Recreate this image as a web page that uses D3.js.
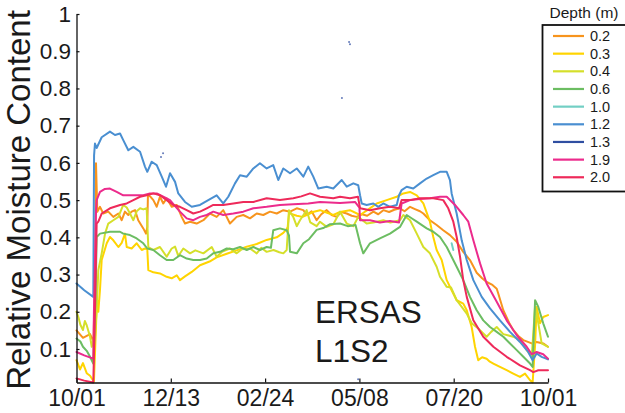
<!DOCTYPE html>
<html>
<head>
<meta charset="utf-8">
<script src="https://cdn.jsdelivr.net/npm/d3@7"></script>
<style>
  body { margin: 0; background: #fff; }
  svg { display: block; font-family: "Liberation Sans", Arial, Helvetica, sans-serif; }
</style>
</head>
<body>
<svg id="chart" width="625" height="413"></svg>
<script>
// Sensor depths (legend order) and their line colours
const depths = ["0.2", "0.3", "0.4", "0.6", "1.0", "1.2", "1.3", "1.9", "2.0"];
const depthColors = ["#f7941d", "#ffd400", "#d5df2a", "#6cbd62", "#72cfc4", "#4a8fd1", "#2f4ea1", "#ec2b8c", "#ee2a5a"];

// Time axis: water year starting 1 October, ticks every 73 days
const startDate = "2013-10-01";
const endDate = "2014-10-01";
const xTickDates = ["2013-10-01", "2013-12-13", "2014-02-24", "2014-05-08", "2014-07-20", "2014-10-01"];
const yTickValues = [0.1, 0.2, 0.3, 0.4, 0.5, 0.6, 0.7, 0.8, 0.9, 1];
const yTickLabels = ["0.1", "0.2", "0.3", "0.4", "0.5", "0.6", "0.7", "0.8", "0.9", "1"];

// Relative moisture content per depth: [days since 1 Oct, value]
const d02 = [[0,.150],[5,.130],[10.5,.140],[13.2,.120],[14.6,.35],[15.1,.599],[16.1,.469],[18.2,.482],[20.7,.464],[24.6,.469],[28.5,.455],[32.4,.464],[35,.446],[37.5,.469],[40.1,.460],[42.7,.469],[45.3,.473],[47.8,.446],[51.7,.424],[53.8,.410],[54.8,.428],[55.3,.513],[57,.510],[59.5,.500],[62.1,.482],[64.6,.509],[67.2,.491],[69.8,.505],[73.7,.482],[77.6,.487],[81.4,.455],[84,.437],[87.9,.442],[93,.437],[98.2,.446],[103.3,.464],[108.5,.455],[113.6,.473],[118.8,.437],[124,.455],[129.1,.460],[134.3,.451],[139.5,.464],[144.6,.460],[149.8,.469],[155,.464],[160.1,.473],[165.3,.469],[170.5,.478],[175.6,.473],[178.2,.460],[182,.470],[185.9,.446],[189.5,.462],[193.7,.473],[197.5,.460],[201.4,.455],[205,.468],[209.2,.464],[213,.458],[216.9,.455],[221,.462],[225,.458],[229.8,.469],[233.6,.462],[237.5,.473],[242,.468],[246,.474],[250.4,.478],[254,.470],[258.2,.482],[262,.476],[265.9,.470],[268.5,.464],[273.6,.446],[278.8,.433],[283.9,.419],[289.1,.406],[294.3,.388],[299.4,.361],[304.6,.339],[309.8,.305],[314,.290],[317.5,.280],[322,.272],[325.3,.262],[326.5,.249],[330.4,.204],[335,.170],[338.1,.151],[342,.135],[345.9,.124],[352.4,.115],[356.2,.119],[361.3,.115],[365,.106]];
const d03 = [[0,.070],[2.7,.045],[5,.062],[7.9,.035],[10.5,.028],[13.5,.012],[15.5,.200],[16.1,.230],[16.9,.200],[18.2,.260],[19.5,.339],[23.4,.384],[25.9,.401],[28.5,.392],[32.4,.374],[35,.385],[37.5,.410],[38.9,.374],[42.7,.370],[46.6,.384],[50.5,.366],[53,.370],[54.8,.368],[55.6,.312],[59.5,.306],[64.6,.303],[69.8,.294],[73.7,.290],[77.6,.298],[80.1,.285],[84,.295],[89.2,.307],[95.6,.325],[103,.335],[108.5,.346],[116.3,.356],[124,.365],[131.8,.375],[139.5,.382],[147.2,.393],[155,.400],[160.1,.412],[162.7,.422],[163.5,.428],[164.5,.465],[170.5,.458],[175,.455],[178.2,.460],[183,.468],[188.5,.473],[194,.466],[198.8,.460],[204,.468],[211.7,.473],[219.5,.460],[226,.475],[232.4,.491],[240.1,.500],[247.9,.509],[253,.518],[258.2,.522],[263.4,.513],[268.5,.491],[273.6,.442],[276.2,.401],[278.8,.366],[282.7,.339],[286.6,.285],[290.4,.258],[294.3,.231],[299.4,.222],[302.1,.204],[305.9,.159],[308.5,.106],[311,.070],[314,.078],[317.5,.074],[320,.066],[322.7,.061],[327.8,.052],[333,.043],[338.1,.034],[343.3,.025],[347.2,.034],[351.1,.016],[353.1,.010],[355,.110],[356.2,.213],[358.8,.169],[361.3,.186],[365,.191]];
const d04 = [[0,.200],[1.5,.185],[3,.165],[5,.151],[6.5,.175],[7.9,.164],[10.5,.133],[11.8,.106],[13,.124],[14,.115],[15.5,.200],[16.9,.312],[19.5,.357],[22.1,.410],[24.6,.437],[28.5,.446],[32.4,.455],[36.2,.487],[38.9,.480],[41.4,.464],[44,.446],[46.6,.470],[49.2,.478],[51.7,.475],[54.3,.478],[55.6,.374],[59.5,.366],[64.6,.374],[69.8,.348],[73.7,.370],[76.3,.375],[78.8,.350],[82.7,.370],[87.9,.357],[92,.365],[98.2,.357],[104.7,.374],[108.5,.348],[113,.362],[118.8,.370],[124,.357],[128,.368],[134.3,.370],[139.5,.357],[143,.372],[147.2,.361],[152.5,.366],[157,.360],[160.1,.357],[162.7,.366],[163.7,.420],[164.5,.473],[167.8,.455],[170.5,.430],[173,.446],[178.2,.473],[181,.440],[185.9,.430],[188.5,.442],[193.7,.428],[198.8,.435],[204,.469],[209.2,.437],[214.3,.430],[218.1,.455],[224.6,.437],[229.8,.440],[237.5,.446],[243,.440],[250.4,.446],[253,.460],[258.2,.446],[263.4,.410],[268.5,.374],[273.6,.357],[278.8,.321],[281.4,.294],[286.6,.267],[290,.265],[294.3,.231],[298.2,.213],[302.1,.195],[305.9,.169],[311,.155],[317.5,.133],[321,.146],[325.3,.159],[330.4,.140],[338.1,.133],[343.3,.124],[348.5,.097],[352.4,.079],[355,.213],[357.5,.169],[360.1,.115],[365,.106]];
const d06 = [[0,.128],[3,.120],[5,.106],[7.9,.095],[10.5,.079],[13,.061],[14.8,.250],[15.6,.401],[18.2,.410],[25.9,.415],[33.7,.415],[36.2,.410],[41.4,.406],[46.6,.397],[51.7,.384],[54.8,.370],[59.5,.366],[64.6,.352],[69.8,.339],[74.9,.339],[80.1,.352],[85.3,.343],[90.4,.339],[95.6,.339],[100.8,.343],[105.9,.357],[111.1,.361],[116.3,.370],[121.4,.368],[126.6,.374],[131.8,.366],[136.9,.374],[142,.366],[147.2,.374],[150.5,.372],[152.3,.419],[157.5,.424],[162.7,.419],[164.5,.405],[165.3,.361],[170.5,.357],[175.6,.384],[180,.395],[185.9,.420],[191,.425],[196,.435],[204,.437],[210,.430],[216,.433],[219.5,.384],[222,.357],[227.2,.384],[234.9,.397],[242.7,.410],[250.4,.428],[255.6,.460],[260,.450],[263.4,.442],[271.1,.424],[276.2,.415],[281.4,.401],[286.6,.374],[290.4,.348],[294.3,.321],[299.4,.285],[304.6,.240],[309.8,.204],[314.9,.177],[320.1,.159],[325.3,.146],[330.4,.133],[335.6,.115],[340.8,.097],[345.9,.079],[351.1,.061],[353.1,.052],[355,.231],[357.5,.213],[361.3,.169],[365,.133]];
const d10 = [[290.4,.384],[291.7,.366]];
const d12 = [[0,.276],[6,.258],[13,.240],[13.6,.620],[14.3,.652],[15.6,.640],[19.5,.669],[25.9,.684],[29.8,.675],[33.7,.679],[36.2,.661],[40.1,.634],[44,.643],[49.2,.630],[53,.590],[54.8,.576],[58.2,.603],[62.1,.594],[66,.563],[69.3,.536],[72.4,.572],[76.3,.549],[78.8,.518],[84,.495],[89.2,.482],[95.6,.487],[102,.500],[108.5,.513],[113.6,.491],[117.5,.509],[122.7,.545],[126.6,.567],[131.8,.563],[136.9,.585],[142,.599],[147.2,.585],[152.3,.594],[156.2,.554],[160.1,.585],[165.3,.572],[170.5,.585],[175.6,.563],[179.4,.590],[183.3,.563],[187.2,.531],[193.7,.536],[198.8,.531],[205.3,.554],[209.2,.536],[214.3,.545],[218.1,.540],[219.5,.513],[220.8,.491],[224.6,.487],[229.8,.491],[233.6,.482],[237.5,.491],[242.7,.482],[247.9,.487],[249.7,.513],[251.7,.527],[255.6,.536],[260.7,.531],[265.9,.545],[271.1,.558],[276.2,.567],[281.4,.576],[286.6,.576],[289.1,.554],[290.4,.518],[294.3,.464],[298.2,.392],[302.1,.339],[307.2,.285],[313.7,.240],[320.1,.209],[327.8,.177],[335.6,.146],[343.3,.119],[349.7,.092],[353.1,.070],[356.2,.088],[360.1,.079],[365,.072]];
const d13 = [[65.4,.616],[67,.626],[205.5,.774],[211,.925],[211.7,.919],[218,.019]];
const d19 = [[0,.092],[6,.083],[13,.074],[13.5,.200],[15.1,.470],[15.6,.500],[18.2,.522],[22,.530],[25.9,.531],[31.1,.522],[36.2,.513],[44,.513],[51.7,.513],[56.9,.518],[62.1,.518],[67.2,.509],[72.4,.500],[76.3,.484],[80.1,.469],[85.3,.451],[90.4,.446],[95.6,.455],[100.8,.460],[105.9,.469],[113.6,.460],[121.4,.464],[129.1,.469],[136.9,.478],[147.2,.482],[157.5,.487],[167.8,.489],[179.4,.491],[188.5,.495],[204,.492],[215.6,.495],[219,.480],[219.5,.446],[227.2,.446],[234.9,.440],[242.7,.444],[249.7,.440],[251.7,.491],[258.2,.500],[265.9,.503],[273.6,.505],[281.4,.509],[286.6,.509],[293,.487],[299.4,.460],[303.3,.442],[307.2,.392],[312.4,.330],[317.5,.276],[325.3,.227],[333,.177],[340.8,.137],[348.5,.106],[352.4,.086],[356.2,.092],[361.3,.086],[365,.074]];
const d20 = [[0,.021],[6,.015],[13,.010],[14,.150],[15.6,.437],[16.9,.442],[19.5,.464],[25.9,.478],[33.7,.487],[38.9,.491],[44,.500],[49.2,.509],[54.3,.513],[59.5,.518],[64.6,.513],[69.8,.500],[74.9,.487],[80.1,.482],[85.3,.473],[90.4,.464],[95.6,.469],[100.8,.478],[105.9,.487],[113.6,.487],[121.4,.491],[129.1,.495],[136.9,.495],[147.2,.505],[157.5,.500],[167.8,.505],[174,.510],[180.8,.518],[188.5,.509],[198.8,.505],[204,.509],[211.7,.505],[217.9,.509],[219.5,.478],[227.2,.473],[234.9,.478],[242.7,.482],[249.7,.478],[251.7,.500],[258.2,.500],[265.9,.505],[276.2,.505],[283.9,.500],[287.8,.478],[291.7,.442],[294.3,.401],[296.9,.348],[299.4,.285],[302.1,.240],[307.2,.177],[314.9,.133],[322.7,.106],[333,.079],[343.3,.056],[351.1,.043],[353.6,.038],[357.5,.043],[365,.043]];

// Which records are drawn as lines and which as isolated readings
const lineSeries = [d02, d03, d04, d06, d10, d12, null, d19, d20];
const pointSeries = [null, null, null, null, null, null, d13, null, null];

const parse = d3.utcParse("%Y-%m-%d");
const t0 = parse(startDate);
const toDate = days => new Date(t0.getTime() + days * 864e5);

const svg = d3.select("#chart");

const x = d3.scaleUtc().domain([t0, parse(endDate)]).range([76.5, 548]);
const y = d3.scaleLinear().domain([0.01, 1]).range([382.5, 14]);

const line = d3.line()
  .x(d => x(toDate(d[0])))
  .y(d => y(d[1]));

// Data lines, drawn in legend order
const plot = svg.append("g");
lineSeries.forEach((s, i) => {
  if (!s) return;
  plot.append("path")
    .datum(s)
    .attr("d", line)
    .attr("fill", "none")
    .attr("stroke", depthColors[i])
    .attr("stroke-width", 2)
    .attr("stroke-linejoin", "round")
    .attr("stroke-linecap", "round");
});
pointSeries.forEach((s, i) => {
  if (!s) return;
  plot.selectAll(null)
    .data(s)
    .join("circle")
    .attr("cx", d => x(toDate(d[0])))
    .attr("cy", d => y(d[1]))
    .attr("r", 1)
    .attr("fill", depthColors[i])
    .attr("opacity", 0.75);
});

// Axes: ticks point inward, no box
const xAxis = d3.axisBottom(x)
  .tickValues(xTickDates.map(parse))
  .tickFormat(d3.utcFormat("%m/%d"))
  .tickSizeInner(-4)
  .tickSizeOuter(0)
  .tickPadding(7.5);

const yAxis = d3.axisLeft(y)
  .tickValues(yTickValues)
  .tickFormat((d, i) => yTickLabels[i])
  .tickSizeInner(-3)
  .tickSizeOuter(0)
  .tickPadding(5.5);

const gx = svg.append("g").attr("transform", "translate(0,382.5)").call(xAxis);
const gy = svg.append("g").attr("transform", "translate(76.5,0)").call(yAxis);

[gx, gy].forEach(g => {
  g.select(".domain").attr("stroke", "#111").attr("stroke-width", 1.3);
  g.selectAll(".tick line").attr("stroke", "#111").attr("stroke-width", 1.2);
  g.selectAll(".tick text")
    .attr("fill", "#1a1a1a")
    .style("font-family", "'Liberation Sans', Arial, sans-serif");
});
gx.selectAll(".tick text").style("font-size", "23px");
gy.selectAll(".tick text").style("font-size", "22.5px");

// Axis title
svg.append("text")
  .attr("transform", "translate(30,200) rotate(-90)")
  .attr("text-anchor", "middle")
  .attr("fill", "#1a1a1a")
  .style("font-size", "33px")
  .text("Relative Moisture Content");

// Site annotation
const site = svg.append("g").attr("fill", "#1a1a1a").style("font-size", "31.5px");
site.append("text").attr("x", 315).attr("y", 323).text("ERSAS");
site.append("text").attr("x", 315).attr("y", 362).text("L1S2");

// Legend
const legend = svg.append("g");
legend.append("text")
  .attr("x", 584)
  .attr("y", 18)
  .attr("text-anchor", "middle")
  .attr("fill", "#1a1a1a")
  .style("font-size", "15.5px")
  .text("Depth (m)");
legend.append("rect")
  .attr("x", 542.5)
  .attr("y", 25)
  .attr("width", 100)
  .attr("height", 166.5)
  .attr("fill", "#fff")
  .attr("stroke", "#111")
  .attr("stroke-width", 1.8);
const rows = legend.selectAll("g.row")
  .data(depths)
  .join("g")
  .attr("class", "row")
  .attr("transform", (d, i) => `translate(0,${36 + i * 17.66})`);
rows.append("line")
  .attr("x1", 553).attr("x2", 584)
  .attr("stroke", (d, i) => depthColors[i])
  .attr("stroke-width", 2.2);
rows.append("text")
  .attr("x", 590)
  .attr("dy", "0.35em")
  .attr("fill", "#1a1a1a")
  .style("font-size", "14.5px")
  .text(d => d);
</script>
</body>
</html>
